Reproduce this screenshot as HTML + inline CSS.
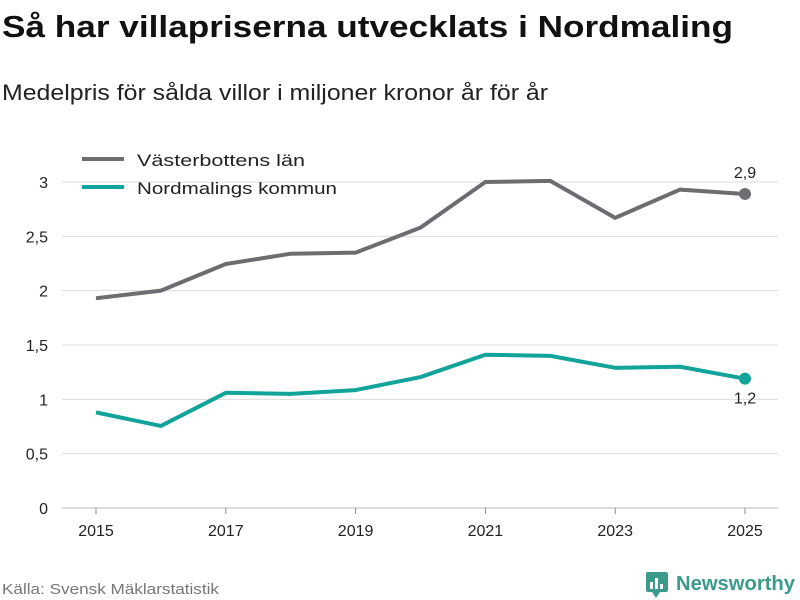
<!DOCTYPE html>
<html><head><meta charset="utf-8"><style>
body{margin:0;background:#fff;font-family:"Liberation Sans","DejaVu Sans",sans-serif;}
#wrap{position:relative;width:800px;height:600px;overflow:hidden;}
</style></head><body>
<div id="wrap">
<svg id="chart" width="800" height="600" xmlns="http://www.w3.org/2000/svg">
<text x="2" y="37" font-size="31" font-weight="bold" fill="#111" textLength="731" lengthAdjust="spacingAndGlyphs">Så har villapriserna utvecklats i Nordmaling</text>
<text x="2" y="100" font-size="22" fill="#222" textLength="546" lengthAdjust="spacingAndGlyphs">Medelpris för sålda villor i miljoner kronor år för år</text>
<g id="grid"></g>
<g id="yticks"></g>
<g id="xticks"></g>
<g id="series"></g>
<g>
<g><line x1="82" y1="159" x2="124" y2="159" stroke="#6d6c70" stroke-width="4"/><text x="137" y="166" font-size="17" fill="#222" textLength="168" lengthAdjust="spacingAndGlyphs">Västerbottens län</text></g>
<g><line x1="82" y1="187" x2="124" y2="187" stroke="#12a39a" stroke-width="4"/><text x="137" y="194" font-size="17" fill="#222" textLength="200" lengthAdjust="spacingAndGlyphs">Nordmalings kommun</text></g>
</g>
<text x="2" y="594" font-size="15" fill="#777" textLength="217" lengthAdjust="spacingAndGlyphs">Källa: Svensk Mäklarstatistik</text>
<g>
<rect x="646" y="572" width="22" height="20" rx="2" fill="#3a9a8c"/>
<rect x="650" y="582" width="3" height="7" fill="#fff"/><rect x="655" y="578" width="3" height="11" fill="#fff"/><rect x="660" y="584" width="3" height="5" fill="#fff"/>
<polygon points="652,592 660,592 656,598" fill="#3a9a8c"/>
<text x="676" y="590" font-size="20" font-weight="bold" fill="#3a9a8c" textLength="119" lengthAdjust="spacingAndGlyphs">Newsworthy</text>
</g>
</svg>
</div>
<script>
const years=[2015,2016,2017,2018,2019,2020,2021,2022,2023,2024,2025];
const vasterbotten=[1.93,2.0,2.245,2.34,2.35,2.58,3.0,3.01,2.67,2.93,2.89];
const nordmaling=[0.88,0.755,1.06,1.05,1.085,1.205,1.41,1.40,1.29,1.30,1.19];
const yTicks=[0,0.5,1,1.5,2,2.5,3];
const yTickLabels=["0","0,5","1","1,5","2","2,5","3"];
const xTickYears=[2015,2017,2019,2021,2023,2025];
const lastLabels=["2,9","1,2"];

const NS="http://www.w3.org/2000/svg";
const x=v=>96+(v-2015)*64.9;
const y=v=>508-v*108.67;
function mk(tag,attrs,parent,text){const e=document.createElementNS(NS,tag);for(const k in attrs)e.setAttribute(k,attrs[k]);if(text!==undefined)e.textContent=text;parent.appendChild(e);return e;}
const grid=document.getElementById('grid'),yt=document.getElementById('yticks'),xt=document.getElementById('xticks'),ser=document.getElementById('series');
yTicks.forEach((t,i)=>{
 const l=mk('line',{x1:62,x2:778,y1:y(t),y2:y(t),stroke:i===0?'#bbb':'#ddd','stroke-width':1},grid);
 
 
 const tx=mk('text',{x:48,y:y(t)+6,'font-size':16,fill:'#222','text-anchor':'end'},yt,yTickLabels[i]);
 
 
});
xTickYears.forEach(yr=>{
 const l=mk('line',{x1:x(yr),x2:x(yr),y1:508,y2:514,stroke:'#888'},xt);
 
 
 const tx=mk('text',{x:x(yr),y:536,'font-size':16,fill:'#222','text-anchor':'middle'},xt,String(yr));
 
 
});
function drawLine(vals,color,name,labelDy,label){
 const d=vals.map((v,i)=>(i?'L':'M')+x(years[i])+','+y(v)).join(' ');
 const p=mk('path',{d:d,fill:'none',stroke:color,'stroke-width':4,'stroke-linejoin':'round'},ser);
 
 
 const n=vals.length-1;
 const c=mk('circle',{cx:x(years[n]),cy:y(vals[n]),r:6,fill:color},ser);
 
 
 const t=mk('text',{x:x(years[n]),y:y(vals[n])+labelDy,'font-size':16,fill:'#222','text-anchor':'middle'},ser,label);
 
 
}
drawLine(vasterbotten,'#6d6c70','vasterbotten',-16,lastLabels[0]);
drawLine(nordmaling,'#12a39a','nordmaling',25,lastLabels[1]);
</script>
</body></html>
